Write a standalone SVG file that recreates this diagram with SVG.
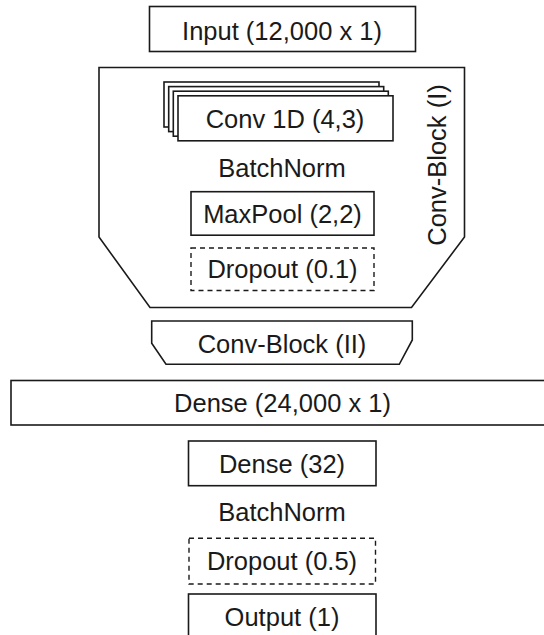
<svg xmlns="http://www.w3.org/2000/svg" width="544" height="635" viewBox="0 0 544 635">
<style>
.b{fill:#fff;stroke:#1a1a1a;stroke-width:1.6}
.d{fill:none;stroke:#1a1a1a;stroke-width:1.4;stroke-dasharray:5,4}
.t{font-family:"Liberation Sans",Arial,sans-serif;font-size:25.5px;fill:#1a1a1a;text-anchor:middle}
</style>
<rect width="544" height="635" fill="#fff"/>
<g id="connectors"></g>
<g id="input"><rect class="b" x="149.5" y="6.5" width="266" height="45"/><text class="t" x="282" y="40">Input (12,000 x 1)</text></g>
<g id="convblock1">
<polygon class="b" points="99,67.5 464.5,67.5 464.5,237 411.5,307.5 150,307.5 99,237"/>
<text class="t" transform="translate(446,165) rotate(-90)">Conv-Block (I)</text>
</g>
<g id="conv1d">
<rect class="b" x="164" y="82" width="215" height="45"/>
<rect class="b" x="168.7" y="86.6" width="215" height="45"/>
<rect class="b" x="173.3" y="91.2" width="215" height="45"/>
<rect class="b" x="178" y="95.8" width="215" height="45"/>
<text class="t" x="285" y="127.5">Conv 1D (4,3)</text>
</g>
<g id="batchnorm1"><text class="t" x="282" y="177">BatchNorm</text></g>
<g id="maxpool"><rect class="b" x="191" y="191.7" width="183" height="43.5"/><text class="t" x="282.5" y="222.5">MaxPool (2,2)</text></g>
<g id="dropout1"><rect class="d" x="191" y="248" width="183" height="42.5"/><text class="t" x="282.5" y="278.3">Dropout (0.1)</text></g>
<g id="convblock2"><polygon class="b" points="151.7,321 412.3,321 412.3,340 399.3,364.3 166,364.3 151.7,343.3"/><text class="t" x="282" y="352.5">Conv-Block (II)</text></g>
<g id="dense1"><rect class="b" x="11" y="380.5" width="545" height="44.5"/><text class="t" x="282.5" y="412">Dense (24,000 x 1)</text></g>
<g id="dense2"><rect class="b" x="188.5" y="441" width="187.5" height="44.7"/><text class="t" x="282" y="472.7">Dense (32)</text></g>
<g id="batchnorm2"><text class="t" x="282" y="520.7">BatchNorm</text></g>
<g id="dropout2"><rect class="d" x="189" y="538.3" width="186.5" height="45.7"/><text class="t" x="282" y="570.3">Dropout (0.5)</text></g>
<g id="output"><rect class="b" x="188.5" y="594" width="187.5" height="50"/><text class="t" x="282" y="626">Output (1)</text></g>
</svg>
